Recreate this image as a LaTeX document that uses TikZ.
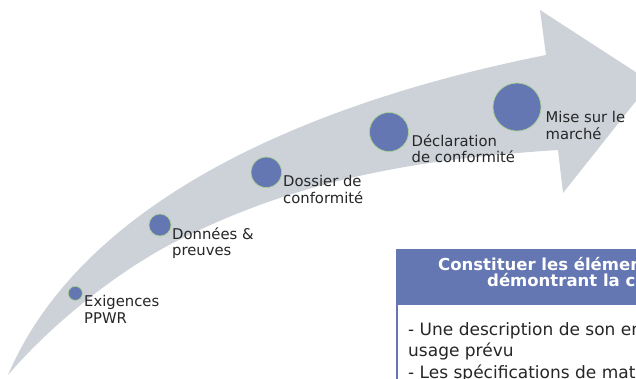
\documentclass[tikz,border=0pt]{standalone}
\usepackage{fontspec}
\setmainfont{DejaVu Sans}
\definecolor{band}{HTML}{CDD2D9}
\definecolor{dot}{HTML}{6577B3}
\definecolor{ring}{HTML}{A9D08E}
\definecolor{txt}{HTML}{262626}
\tikzset{
  dotc/.style={circle, fill=dot, draw=ring, line width=0.7pt, inner sep=0pt},
  lbl/.style={anchor=base west, inner sep=0pt, align=left, text=txt,
    font=\fontsize{14.8}{16.3}\selectfont},
  hdrtxt/.style={anchor=base west, inner sep=0pt, text=white,
    font=\fontsize{16.5}{16}\selectfont\bfseries},
  bodytxt/.style={anchor=base west, inner sep=0pt, align=left, text=txt,
    font=\fontsize{17}{21.7}\selectfont},
}
\begin{document}
\begin{tikzpicture}[x=1pt,y=-1pt]
\useasboundingbox (0,0) rectangle (636,378);
\fill[white] (0,0) rectangle (636,378);
\clip (0,0) rectangle (636,378);
% curved arrow
\fill[band] (540,10) -- (651,82) -- (563,193) -- (558,150)
  .. controls (434,158) and (311,175) .. (187,236)
  .. controls (127,264) and (55,320) .. (8,375)
  .. controls (85,195) and (320,100) .. (546,55)
  -- cycle;
% milestones
\node[dotc, minimum size=14pt] (c1) at (75.3,293.3) {};
\node[dotc, minimum size=22pt] (c2) at (160,225) {};
\node[dotc, minimum size=30.5pt] (c3) at (266.3,172.3) {};
\node[dotc, minimum size=39pt] (c4) at (389,132) {};
\node[dotc, minimum size=48pt] (c5) at (517,107) {};
\node[lbl] (l1) at (84,323) {Exigences\\PPWR};
\node[lbl] (l2) at (172,255.3) {Données \&\\preuves};
\node[lbl] (l3) at (283,203) {Dossier de\\conformité};
\node[lbl] (l4) at (411.5,162.3) {Déclaration\\de conformité};
\node[lbl] (l5) at (545.5,139) {Mise sur le\\marché};
% box
\node[draw=dot, fill=white, line width=1.5pt, anchor=north west, minimum width=320pt, minimum height=200pt] (box) at (396,249.3) {};
\node[fill=dot, draw=dot, line width=1.5pt, anchor=north west, minimum width=320pt, minimum height=54pt] (hdr) at (396,249.3) {};
\node[hdrtxt] (h1) at (438,270) {Constituer les éléments};
\node[hdrtxt] (h2) at (487,286) {démontrant la conformité};
\node[bodytxt] (b1) at (408,378.4) {- Une description de son emballage\\usage prévu\\- Les spécifications de matériaux};
\end{tikzpicture}
\end{document}
